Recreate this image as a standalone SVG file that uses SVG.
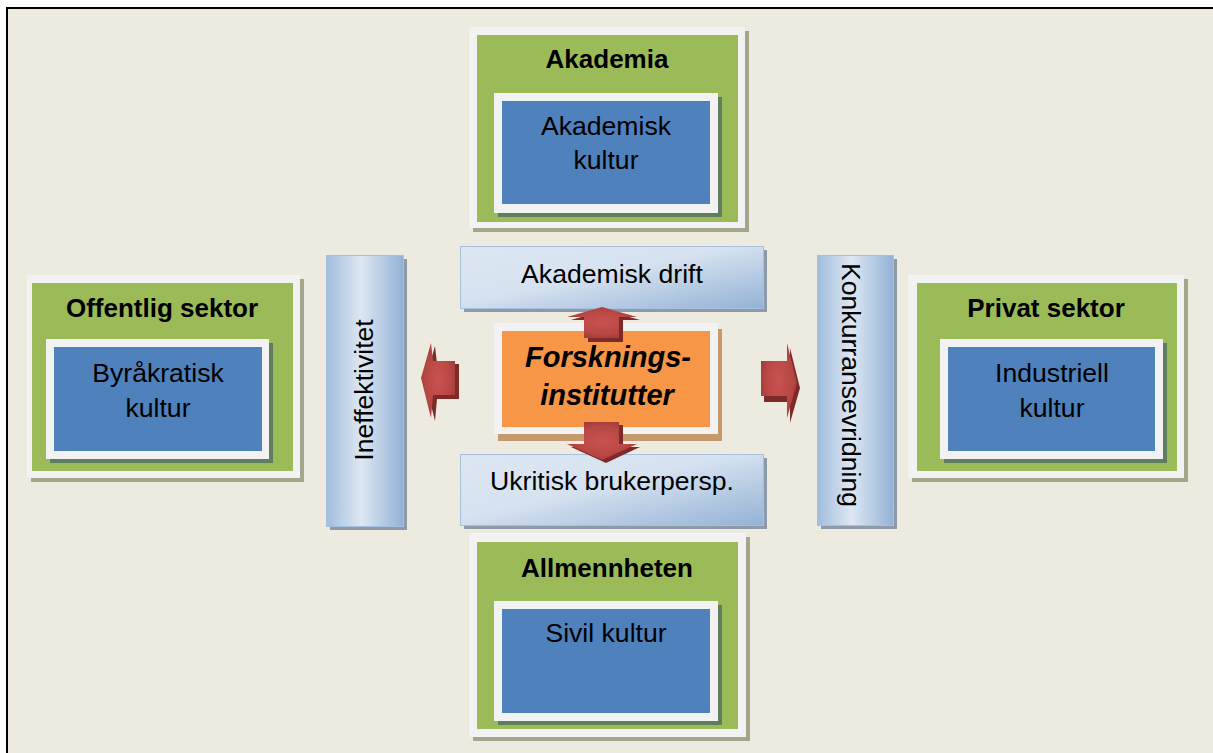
<svg xmlns="http://www.w3.org/2000/svg" width="1213" height="753" viewBox="0 0 1213 753">
<defs>
<style>
.t{font-family:"Liberation Sans",Arial,sans-serif;fill:#000;text-anchor:middle}
.title{font-size:26px;font-weight:bold}
.body{font-size:26.6px}
.frame{fill:#F2F2F2}
.frameSh{fill:#A4A68B}
.green{fill:#9BBB59}
.innerSh{fill:#5F7D5F}
.blue{fill:#4F81BD}
.hbox{fill:url(#gH);stroke:#A6C0DF;stroke-width:1}
.vbox{fill:url(#gV);stroke:#A6C0DF;stroke-width:1}
.boxSh{fill:#8D9AA7}
.arr{fill:url(#gA)}
.arrSh{fill:#7E2A28}
</style>
<linearGradient id="gH" x1="0" y1="0" x2="1" y2="1">
<stop offset="0" stop-color="#DDE7F2"/>
<stop offset="0.45" stop-color="#D6E2F0"/>
<stop offset="1" stop-color="#94B2D6"/>
</linearGradient>
<linearGradient id="gV" x1="0" y1="0" x2="1" y2="0">
<stop offset="0" stop-color="#A2BDDD"/>
<stop offset="0.45" stop-color="#DDE7F2"/>
<stop offset="1" stop-color="#93B1D6"/>
</linearGradient>
<radialGradient id="gA" cx="0.5" cy="0.5" r="0.6">
<stop offset="0" stop-color="#C9524F"/>
<stop offset="0.6" stop-color="#B84845"/>
<stop offset="1" stop-color="#9C3835"/>
</radialGradient>
</defs>
<rect x="0" y="0" width="1213" height="753" fill="#FFFFFF"/>
<rect x="7" y="8" width="1220" height="760" fill="#EDEBE0" stroke="#000" stroke-width="2"/>

<g id="akademia">
<rect class="frameSh" x="473" y="31" width="276" height="201"/>
<rect class="frame" x="469" y="27" width="276" height="201"/>
<rect class="green" x="477" y="35" width="261" height="187"/>
<rect class="innerSh" x="498" y="97" width="224" height="120"/>
<rect class="frame" x="494" y="93" width="224" height="120"/>
<rect class="blue" x="502" y="101" width="208" height="103"/>
<text class="t title" x="607" y="68">Akademia</text>
<text class="t body" x="606" y="135">Akademisk</text>
<text class="t body" x="606" y="169">kultur</text>
</g>

<g id="offentlig">
<rect class="frameSh" x="31" y="279" width="273" height="203"/>
<rect class="frame" x="27" y="275" width="273" height="203"/>
<rect class="green" x="32" y="283" width="261" height="188"/>
<rect class="innerSh" x="50" y="343" width="223" height="120"/>
<rect class="frame" x="46" y="339" width="223" height="120"/>
<rect class="blue" x="54" y="347" width="208" height="104"/>
<text class="t title" x="162" y="317">Offentlig sektor</text>
<text class="t body" x="158" y="382">Byråkratisk</text>
<text class="t body" x="158" y="417">kultur</text>
</g>

<g id="privat">
<rect class="frameSh" x="912" y="279" width="276" height="203"/>
<rect class="frame" x="908" y="275" width="276" height="203"/>
<rect class="green" x="917" y="283" width="260" height="188"/>
<rect class="innerSh" x="944" y="343" width="223" height="120"/>
<rect class="frame" x="940" y="339" width="223" height="120"/>
<rect class="blue" x="948" y="347" width="207" height="104"/>
<text class="t title" x="1046" y="317">Privat sektor</text>
<text class="t body" x="1052" y="382">Industriell</text>
<text class="t body" x="1052" y="417">kultur</text>
</g>

<g id="allmennheten">
<rect class="frameSh" x="473" y="537" width="277" height="204"/>
<rect class="frame" x="469" y="533" width="277" height="204"/>
<rect class="green" x="477" y="542" width="261" height="187"/>
<rect class="innerSh" x="498" y="605" width="224" height="120"/>
<rect class="frame" x="494" y="601" width="224" height="120"/>
<rect class="blue" x="502" y="609" width="208" height="104"/>
<text class="t title" x="607" y="577">Allmennheten</text>
<text class="t body" x="606" y="642">Sivil kultur</text>
</g>

<g id="akademisk-drift">
<rect class="boxSh" x="464" y="250" width="303" height="62"/>
<rect class="hbox" x="460.5" y="246.5" width="303" height="62"/>
<text class="t body" x="612" y="283">Akademisk drift</text>
</g>

<g id="ukritisk">
<rect class="boxSh" x="464" y="458" width="303" height="71"/>
<rect class="hbox" x="460.5" y="454.5" width="303" height="71"/>
<text class="t body" x="612" y="490">Ukritisk brukerpersp.</text>
</g>

<g id="ineffektivitet">
<rect class="boxSh" x="330" y="259" width="77" height="271"/>
<rect class="vbox" x="326.5" y="255.5" width="77" height="271"/>
<text class="t body" transform="translate(373 390) rotate(-90)">Ineffektivitet</text>
</g>

<g id="konkurransevridning">
<rect class="boxSh" x="821" y="259" width="76" height="270"/>
<rect class="vbox" x="817.5" y="255.5" width="76" height="270"/>
<text class="t body" transform="translate(842 385) rotate(90)">Konkurransevridning</text>
</g>

<g id="forskningsinstitutter">
<rect fill="#C49A6C" x="498" y="329" width="224" height="112"/>
<rect class="frame" x="494" y="323" width="224" height="111"/>
<rect fill="#F79646" x="502" y="331" width="208" height="96"/>
<text class="t" x="608" y="367" font-size="29" font-weight="bold" font-style="italic">Forsknings-</text>
<text class="t" x="607" y="405" font-size="29" font-weight="bold" font-style="italic">institutter</text>
</g>

<g id="connectors">
<polygon class="arrSh" points="605,310 640,320 623,320 623,342 588,342 588,320 571,320"/>
<polygon class="arr" points="602,307 637,317 619,317 619,338 584,338 584,317 567,317"/>
<polygon class="arrSh" points="588,425 623,425 623,447 640,447 606,463 571,447 588,447"/>
<polygon class="arr" points="584,422 619,422 619,444 637,444 602,460 567,444 584,444"/>
<polygon class="arrSh" points="425,381 435,346 437,364 459,364 459,399 437,399 435,421"/>
<polygon class="arr" points="421,378 431,343 433,361 455,361 455,395 433,395 431,418"/>
<polygon class="arrSh" points="764,366 790,366 790,348 800,388 790,423 790,402 764,402"/>
<polygon class="arr" points="761,361 787,361 787,343 797,383 787,418 787,396 761,396"/>
</g>
</svg>
